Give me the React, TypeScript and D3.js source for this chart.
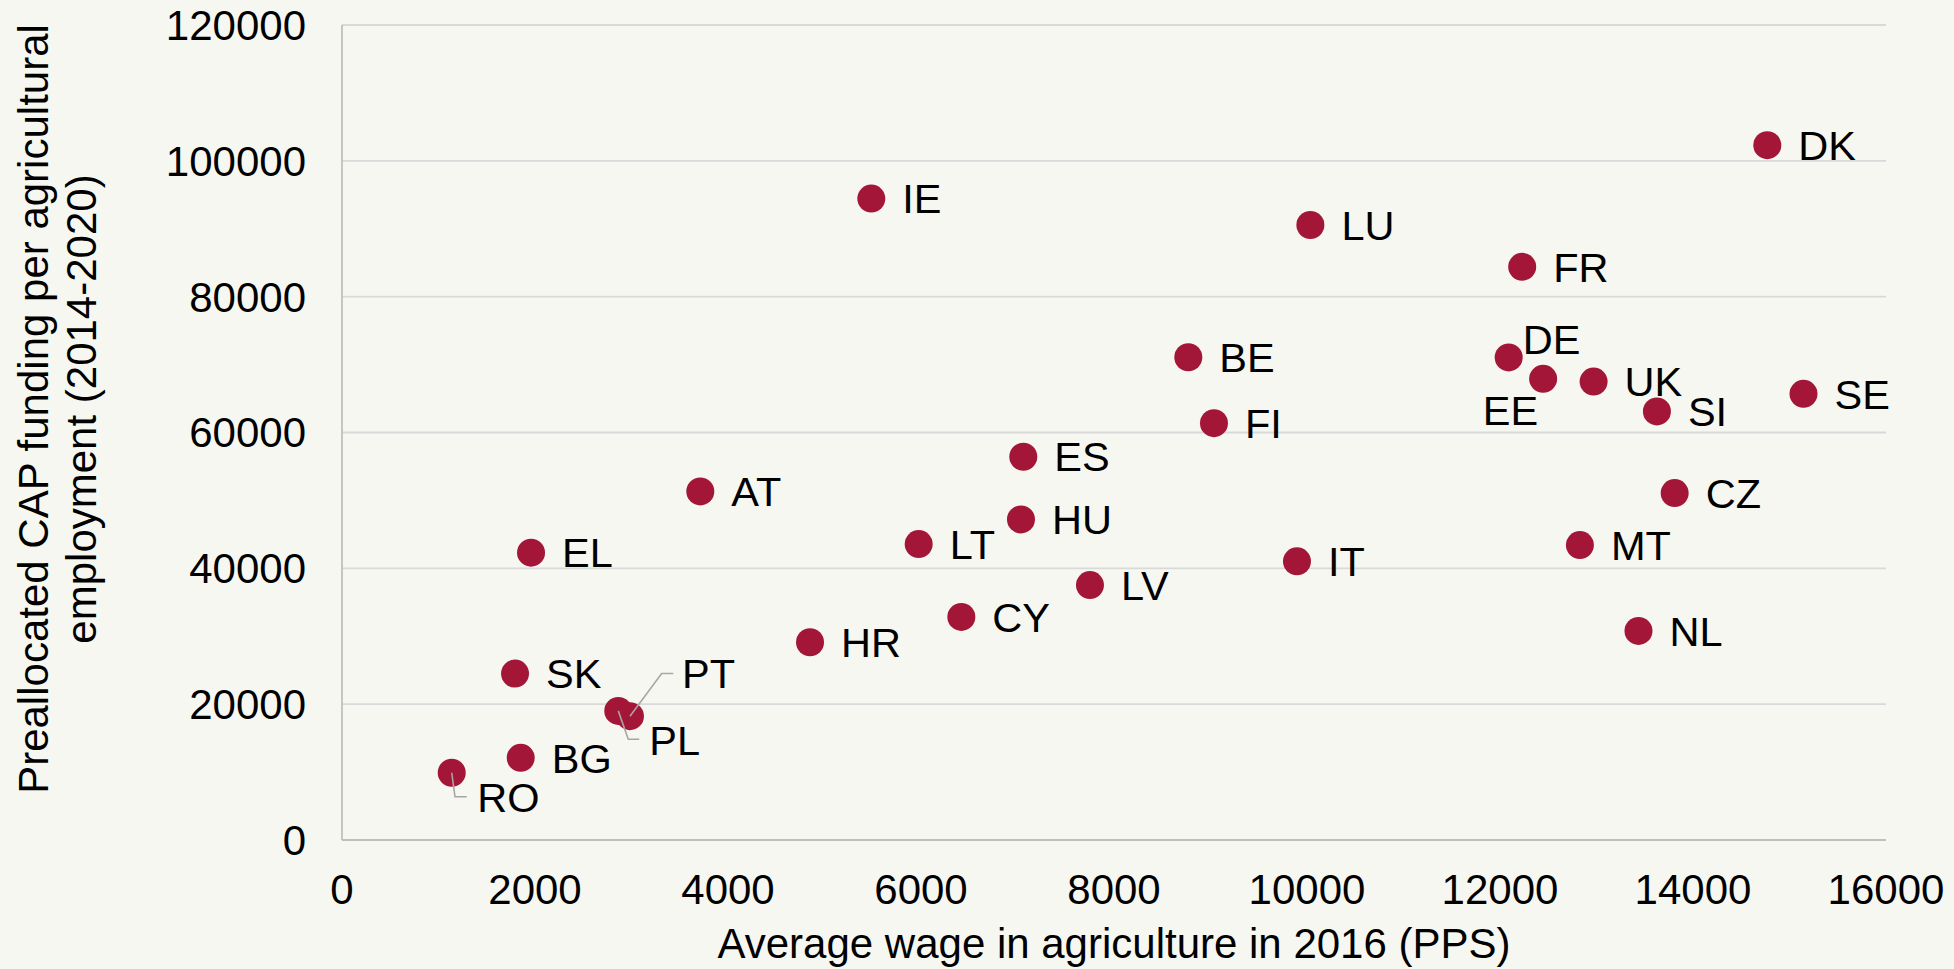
import React from "react";
import * as d3 from "d3";

// ---- data ----
const countries = ["DK","IE","LU","FR","BE","DE","EE","UK","SE","SI","FI","ES","AT","CZ","HU","LT","MT","EL","IT","LV","CY","NL","HR","SK","PL","PT","BG","RO"];
const wages = [14770,5485,10035,12230,8770,12090,12447,12970,15145,13626,9036,7060,3713,13810,7036,5976,12828,1959,9896,7751,6418,13435,4850,1793,2863,2984,1852,1137];
const funding = [102300,94450,90550,84400,71080,71050,67900,67500,65700,63100,61370,56430,51320,51080,47200,43570,43430,42310,41030,37540,32840,30780,29120,24510,19010,18230,12100,9900];
const xTicks = [0,2000,4000,6000,8000,10000,12000,14000,16000];
const yTicks = [0,20000,40000,60000,80000,100000,120000];
const xTitle = "Average wage in agriculture in 2016 (PPS)";
const yTitleLines = ["Preallocated CAP funding per agricultural", "employment (2014-2020)"];

// ---- layout / style ----
const W = 1954, H = 969;
const M = { left: 342, right: 1886, top: 25, bottom: 840 };
const BG = "#F7F7F2";
const DOT = "#A31638";
const GRID = "#D9D9D9";
const AXIS = "#BFBFBF";
const LEADER = "#A6A6A6";
const FONT = "'Liberation Sans', Arial, sans-serif";
const FS = 42;
const LFS = 41.5;
const R = 14;

// label placement (offsets relative to the dot centre); default: right of dot
type Place = { dx: number; dy: number; anchor?: string; leader?: [number, number][] };
const special: Record<string, Place> = {
  DE: { dx: 14, dy: -18 },
  EE: { dx: -5, dy: 31, anchor: "end" },
  PT: { dx: 52, dy: -43, leader: [[0, 0], [31.7, -42.7], [43.3, -42.7]] },
  PL: { dx: 31, dy: 29.5, leader: [[0, 0], [10, 28.3], [21, 28.3]] },
  RO: { dx: 25.5, dy: 25, leader: [[0, 0], [3.3, 24], [15, 24]] },
};

export default function App() {
  const x = d3.scaleLinear().domain([0, 16000]).range([M.left, M.right]);
  const y = d3.scaleLinear().domain([0, 120000]).range([M.bottom, M.top]);
  const line = d3.line<[number, number]>();
  const pts = countries.map((c, i) => ({ c, cx: x(wages[i]), cy: y(funding[i]) }));
  const capShift = FS * 0.355;
  const lCapShift = LFS * 0.355;

  return (
    <svg width={W} height={H} style={{ position: "absolute", left: 0, top: 0, display: "block" }} fontFamily={FONT}>
      <rect x={0} y={0} width={W} height={H} fill={BG} />
      {/* gridlines */}
      {yTicks.filter((t) => t > 0).map((t) => (
        <line key={"g" + t} x1={M.left} x2={M.right} y1={y(t)} y2={y(t)} stroke={GRID} strokeWidth={1.8} />
      ))}
      {/* axes */}
      <line x1={M.left} x2={M.left} y1={M.top} y2={M.bottom} stroke={AXIS} strokeWidth={1.8} />
      <line x1={M.left} x2={M.right} y1={M.bottom} y2={M.bottom} stroke={AXIS} strokeWidth={1.8} />
      {/* y tick labels */}
      {yTicks.map((t) => (
        <text key={"yt" + t} x={M.left - 36} y={y(t) + capShift} textAnchor="end" fontSize={FS} fill="#000">
          {t}
        </text>
      ))}
      {/* x tick labels */}
      {xTicks.map((t) => (
        <text key={"xt" + t} x={x(t)} y={904} textAnchor="middle" fontSize={FS} fill="#000">
          {t}
        </text>
      ))}
      {/* axis titles */}
      <text x={(M.left + M.right) / 2} y={958} textAnchor="middle" fontSize={FS} fill="#000">
        {xTitle}
      </text>
      {yTitleLines.map((l, i) => (
        <text key={"yl" + i} transform={`translate(${48 + i * 48},409) rotate(-90)`} textAnchor="middle" fontSize={FS} fill="#000">
          {l}
        </text>
      ))}
      {/* dots */}
      {pts.map((p) => (
        <circle key={"d" + p.c} cx={p.cx} cy={p.cy} r={R} fill={DOT} />
      ))}
      {/* leader lines */}
      {pts.filter((p) => special[p.c]?.leader).map((p) => (
        <path
          key={"l" + p.c}
          d={line(special[p.c].leader!.map(([dx, dy]) => [p.cx + dx, p.cy + dy] as [number, number])) || ""}
          fill="none"
          stroke={LEADER}
          strokeWidth={1.6}
        />
      ))}
      {/* labels */}
      {pts.map((p) => {
        const s = special[p.c] || { dx: 31, dy: 0 };
        return (
          <text key={"t" + p.c} x={p.cx + s.dx} y={p.cy + s.dy + lCapShift} textAnchor={s.anchor || "start"} fontSize={LFS} fill="#000">
            {p.c}
          </text>
        );
      })}
    </svg>
  );
}
